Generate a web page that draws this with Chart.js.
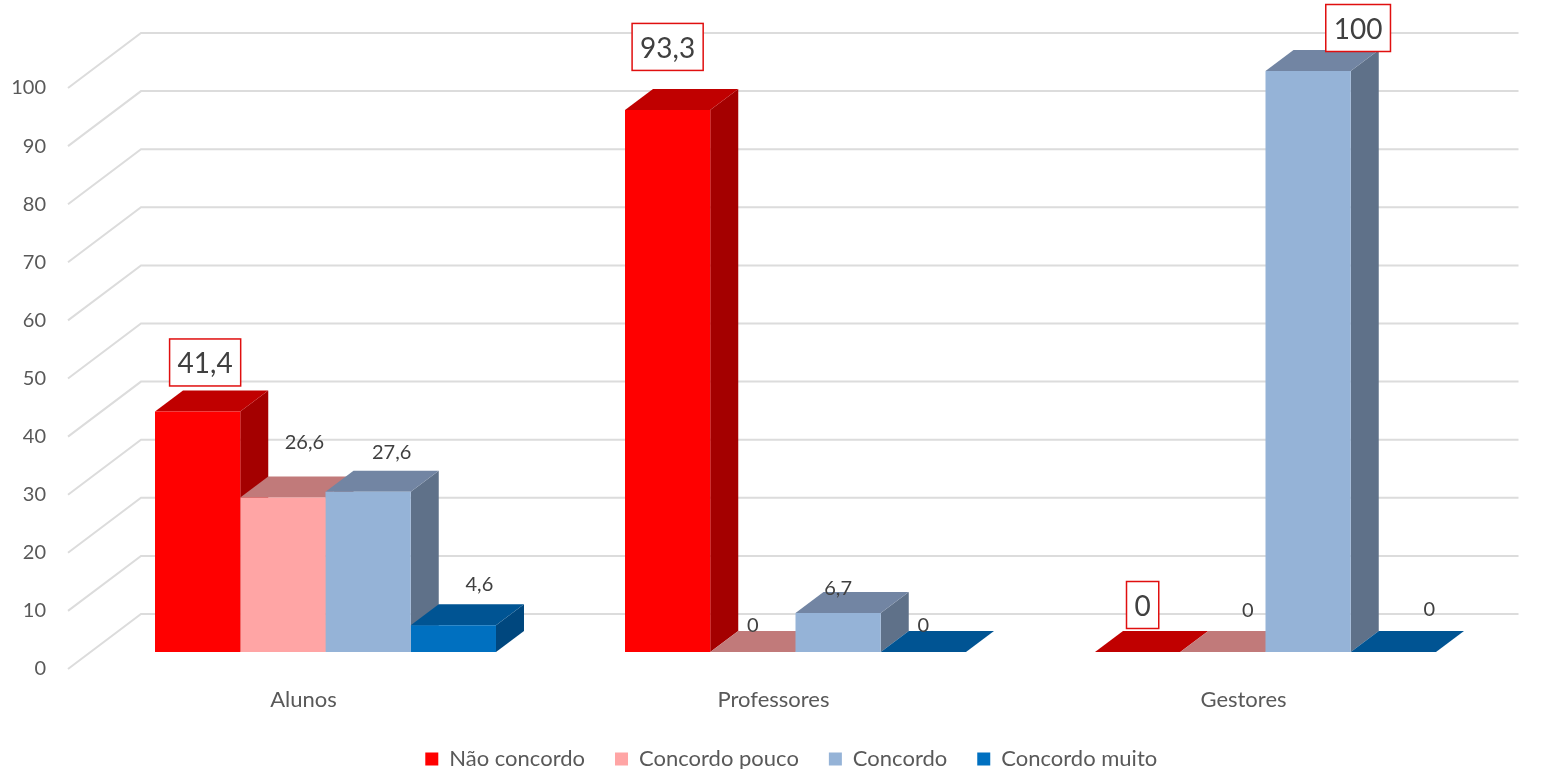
<!DOCTYPE html>
<html lang="pt">
<head>
<meta charset="utf-8">
<title>Grau de concordância</title>
<script src="https://cdn.jsdelivr.net/npm/chart.js@4/dist/chart.umd.min.js"></script>
<style>
  html, body { margin: 0; padding: 0; background: #fff; }
  .Chart { width: 1546px; height: 769px; }
</style>
</head>
<body>
<div class="Chart"><canvas id="grafico"></canvas></div>
<script>
const categorias = ['Alunos', 'Professores', 'Gestores'];
const naoConcordo = [41.4, 93.3, 0];
const concordoPouco = [26.6, 0, 0];
const concordo = [27.6, 6.7, 100];
const concordoMuito = [4.6, 0, 0];

// front, top and side colours of each series
const coresFrente = ['#FF0000', '#FFA5A5', '#95B3D7', '#0070C0'];
const coresTopo = ['#C00000', '#C17A7A', '#7285A3', '#005493'];
const coresLado = ['#A40000', '#A06666', '#5F7189', '#00477E'];

// label shift from the middle of the bar's top edge: [dx, dy] per series, per category
const deslocRotulos = [
  [[7.5, -49], [0, -63], [5, -47]],
  [[21.5, -54.5], [0, -26], [25, -41]],
  [[23.5, -38.6], [0, -25], [50, -43]],
  [[26, -41], [0, -26], [36, -42]]
];
// labels with the red frame
const comMoldura = [
  [true, true, true],
  [false, false, false],
  [false, false, true],
  [false, false, false]
];

const PROF_X = 28, PROF_Y = 21;      // bar depth
const PAREDE_X = 50.5, PAREDE_Y = 38; // back wall, from the bars' front plane
const CHAO_X = 22.5, CHAO_Y = 17;     // front edge of the side wall
const FONTE = 'Lato';

const formatar = v => String(v).replace('.', ',');

function face(ctx, pontos, cor) {
  ctx.beginPath();
  pontos.forEach((p, i) => i ? ctx.lineTo(p[0], p[1]) : ctx.moveTo(p[0], p[1]));
  ctx.closePath();
  ctx.fillStyle = cor;
  ctx.fill();
}

const efeito3d = {
  id: 'efeito3d',
  afterLayout(chart) {
    // legend sits lower and a bit to the right of the default slot
    const leg = chart.legend;
    leg.left += 41; leg.right += 41;
    leg.top += 11; leg.bottom += 11;
    // category labels are clipped to the scale box, give them room
    chart.scales.x.bottom += 20;
  },
  beforeDatasetsDraw(chart) {
    const ctx = chart.ctx, y = chart.scales.y, x = chart.scales.x;
    ctx.save();
    // side wall and back wall lines
    ctx.strokeStyle = '#DCDCDC';
    ctx.lineWidth = 2;
    y.ticks.forEach(t => {
      const py = y.getPixelForValue(t.value);
      ctx.beginPath();
      ctx.moveTo(x.left - CHAO_X, py + CHAO_Y);
      ctx.lineTo(x.left + PAREDE_X, py - PAREDE_Y);
      ctx.lineTo(x.right + 18, py - PAREDE_Y);
      ctx.stroke();
    });
    // top and side of each bar, left to right so the next bar covers the previous one
    categorias.forEach((c, j) => {
      chart.data.datasets.forEach((ds, i) => {
        const b = chart.getDatasetMeta(i).data[j];
        const esq = b.x - b.width / 2, dir = b.x + b.width / 2;
        if (b.base - b.y > 0) {
          face(ctx, [[dir, b.y], [dir + PROF_X, b.y - PROF_Y], [dir + PROF_X, b.base - PROF_Y], [dir, b.base]], coresLado[i]);
        }
        face(ctx, [[esq, b.y], [dir, b.y], [dir + PROF_X, b.y - PROF_Y], [esq + PROF_X, b.y - PROF_Y]], coresTopo[i]);
      });
    });
    ctx.restore();
  },
  afterDatasetsDraw(chart) {
    const ctx = chart.ctx;
    ctx.save();
    ctx.textAlign = 'center';
    ctx.textBaseline = 'middle';
    chart.data.datasets.forEach((ds, i) => {
      ds.data.forEach((v, j) => {
        const b = chart.getDatasetMeta(i).data[j];
        const cx = b.x + deslocRotulos[i][j][0], cy = b.y + deslocRotulos[i][j][1];
        const txt = formatar(v);
        if (comMoldura[i][j]) {
          ctx.font = '28px ' + FONTE;
          const w = ctx.measureText(txt).width + 16, h = 47;
          ctx.fillStyle = '#fff';
          ctx.fillRect(cx - w / 2, cy - h / 2, w, h);
          ctx.strokeStyle = '#E00F0F';
          ctx.lineWidth = 1.5;
          ctx.strokeRect(cx - w / 2, cy - h / 2, w, h);
        } else {
          ctx.font = '20px ' + FONTE;
        }
        ctx.fillStyle = '#404040';
        ctx.fillText(txt, cx, cy + (comMoldura[i][j] ? 2 : 0));
      });
    });
    ctx.restore();
  }
};

const serie = (label, data, i) => ({
  label, data,
  backgroundColor: coresFrente[i],
  borderWidth: 0
});

new Chart(document.getElementById('grafico'), {
  type: 'bar',
  data: {
    labels: categorias,
    datasets: [
      serie('Não concordo', naoConcordo, 0),
      serie('Concordo pouco', concordoPouco, 1),
      serie('Concordo', concordo, 2),
      serie('Concordo muito', concordoMuito, 3)
    ]
  },
  options: {
    responsive: true,
    maintainAspectRatio: false,
    animation: false,
    layout: { padding: { top: 71, right: 45.5, left: 0, bottom: 0 } },
    datasets: { bar: { categoryPercentage: 0.7255, barPercentage: 1 } },
    scales: {
      x: {
        grid: { display: false, drawTicks: false },
        border: { display: false },
        afterFit(s) { s.height = 55; },
        ticks: { color: '#595959', font: { family: FONTE, size: 22 }, labelOffset: -22, padding: 35, maxRotation: 0 }
      },
      y: {
        min: 0,
        max: 100,
        grid: { display: false, drawTicks: false },
        border: { display: false },
        afterFit(s) { s.width = 90.5; },
        ticks: { stepSize: 10, color: '#595959', font: { family: FONTE, size: 20 }, labelOffset: 17, padding: 44.5 }
      }
    },
    plugins: {
      tooltip: { enabled: false },
      legend: {
        position: 'bottom',
        labels: { boxWidth: 13, boxHeight: 13, padding: 30, color: '#595959', font: { family: FONTE, size: 22 } }
      }
    }
  },
  plugins: [efeito3d]
});
</script>
</body>
</html>
